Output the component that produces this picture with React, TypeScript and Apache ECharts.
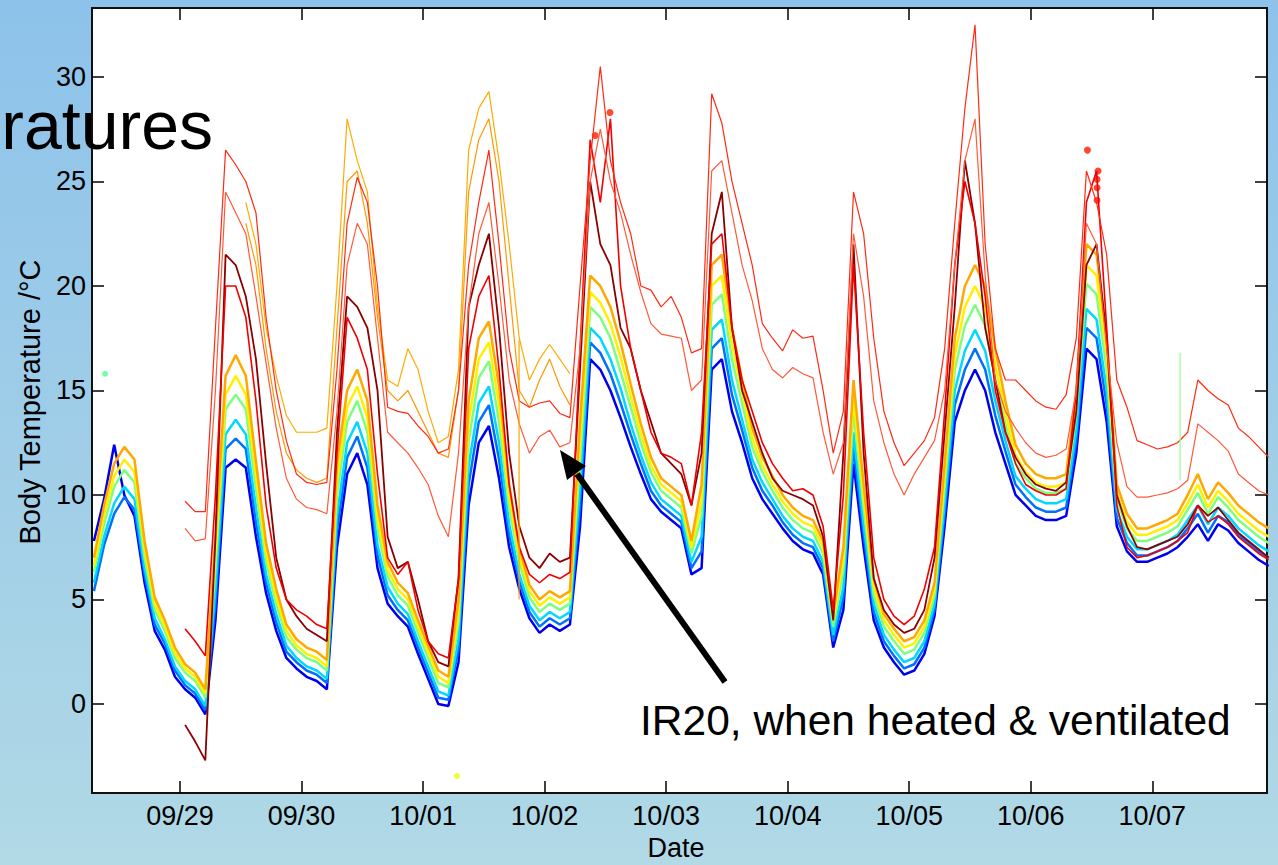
import React, { useEffect, useRef } from "react";
import * as echarts from "echarts";

// hours since 09/28 00:00 (2-hour sampling grid)
const HOURS = [7,9,11,13,15,17,19,21,23,25,27,29,31,33,35,37,39,41,43,45,47,49,51,53,55,57,59,61,63,65,67,69,71,73,75,77,79,81,83,85,87,89,91,93,95,97,99,101,103,105,107,109,111,113,115,117,119,121,123,125,127,129,131,133,135,137,139,141,143,145,147,149,151,153,155,157,159,161,163,165,167,169,171,173,175,177,179,181,183,185,187,189,191,193,195,197,199,201,203,205,207,209,211,213,215,217,219,221,223,225,227,229,231,233,235,237,239];

const DATE_TICKS = [24, 48, 72, 96, 120, 144, 168, 192, 216];
const DATE_LABELS = ["09/29", "09/30", "10/01", "10/02", "10/03", "10/04", "10/05", "10/06", "10/07"];
const TEMP_TICKS = [0, 5, 10, 15, 20, 25, 30];

// main cluster of sensors (jet colour order)
const S_BLUE = [7.8,9.8,12.4,10.0,9.0,5.8,3.5,2.6,1.3,0.7,
0.3,-0.5,4.0,11.3,11.7,11.3,8.0,5.3,3.5,2.2,
1.7,1.3,1.1,0.7,7.5,11.0,12.0,10.5,6.5,4.8,
4.2,3.7,2.4,1.2,0.0,-0.1,2.0,9.5,12.5,13.3,
10.8,7.5,5.5,4.1,3.4,3.8,3.5,3.8,8.5,16.5,
16.0,15.0,13.7,12.3,11.0,9.8,9.2,8.8,8.4,6.2,
6.5,16.0,16.5,14.0,12.5,10.8,9.8,9.1,8.4,7.8,
7.4,7.2,6.2,2.7,4.5,11.5,7.5,4.0,2.7,2.0,
1.4,1.6,2.4,4.2,8.5,13.5,15.0,16.0,15.0,13.0,
11.5,10.0,9.5,9.0,8.8,8.8,9.0,12.0,17.0,16.5,
13.5,8.5,7.3,6.8,6.8,7.0,7.2,7.5,8.0,8.6,
7.8,8.6,8.3,7.7,7.3,6.9,6.6];
const S_AZURE = [5.4,7.6,9.1,9.9,9.3,6.2,3.8,2.9,1.6,0.9,
0.5,-0.3,4.8,12.2,12.7,12.2,8.7,5.8,3.9,2.5,
2.0,1.6,1.4,1.0,8.3,11.8,12.8,11.3,7.1,5.2,
4.5,4.0,2.7,1.5,0.3,0.2,2.6,10.5,13.5,14.3,
11.7,8.1,5.9,4.4,3.7,4.1,3.8,4.1,9.5,17.3,
16.8,15.8,14.4,12.9,11.5,10.2,9.5,9.1,8.7,6.5,
7.3,17.0,17.5,14.8,13.1,11.3,10.2,9.5,8.7,8.1,
7.7,7.5,6.5,3.0,5.1,12.3,8.1,4.4,3.0,2.3,
1.7,1.9,2.7,4.5,9.1,14.3,16.0,17.0,16.0,13.8,
12.1,10.5,9.9,9.4,9.2,9.2,9.4,12.6,18.0,17.5,
14.3,8.9,7.7,7.1,7.1,7.3,7.5,7.8,8.4,9.1,
8.2,9.0,8.7,8.1,7.7,7.3,7.0];
const S_CYAN = [5.8,8.0,9.6,10.4,9.8,6.5,4.1,3.1,1.8,1.1,
0.7,-0.1,5.5,12.9,13.6,12.9,9.4,6.2,4.3,2.8,
2.2,1.8,1.6,1.2,9.0,12.5,13.5,12.0,7.6,5.6,
4.8,4.3,3.0,1.8,0.6,0.4,3.1,11.4,14.4,15.2,
12.5,8.6,6.2,4.7,4.0,4.4,4.1,4.4,10.4,18.0,
17.5,16.5,15.1,13.4,11.9,10.6,9.8,9.4,9.0,6.8,
8.0,17.9,18.4,15.5,13.6,11.7,10.6,9.8,9.0,8.4,
8.0,7.8,6.8,3.3,5.6,13.0,8.6,4.8,3.3,2.6,
2.0,2.2,3.0,4.8,9.6,15.0,16.9,17.9,16.9,14.5,
12.6,10.9,10.3,9.8,9.6,9.6,9.8,13.1,18.9,18.4,
15.0,9.3,8.0,7.4,7.4,7.6,7.8,8.1,8.8,9.5,
8.6,9.4,9.0,8.4,8.0,7.6,7.3];
const S_GREEN = [6.3,8.6,10.4,11.2,10.6,7.0,4.5,3.5,2.2,1.5,
1.1,0.3,6.5,14.1,14.8,14.1,10.3,6.8,4.8,3.2,
2.6,2.2,2.0,1.6,10.0,13.5,14.5,13.0,8.4,6.1,
5.2,4.7,3.4,2.2,1.0,0.8,3.9,12.6,15.6,16.4,
13.5,9.4,6.8,5.1,4.4,4.8,4.5,4.8,11.6,19.0,
18.5,17.5,15.9,14.2,12.5,11.1,10.2,9.8,9.4,7.2,
9.0,19.1,19.6,16.5,14.4,12.3,11.1,10.2,9.4,8.8,
8.4,8.2,7.2,3.7,6.4,14.0,9.4,5.2,3.7,3.0,
2.4,2.6,3.4,5.2,10.4,16.0,18.1,19.1,18.1,15.5,
13.4,11.5,10.8,10.3,10.1,10.1,10.3,13.9,20.1,19.6,
16.0,9.8,8.4,7.8,7.8,8.0,8.2,8.5,9.3,10.1,
9.1,9.9,9.4,8.8,8.4,8.0,7.7];
const S_YELLOW = [6.6,9.0,10.9,11.7,11.1,7.4,4.8,3.7,2.4,1.7,
1.3,0.5,7.2,14.8,15.7,14.8,10.9,7.2,5.1,3.5,
2.8,2.4,2.2,1.8,10.7,14.2,15.2,13.7,8.9,6.4,
5.5,5.0,3.7,2.5,1.3,1.0,4.4,13.5,16.5,17.3,
14.3,9.9,7.1,5.4,4.7,5.1,4.8,5.1,12.5,19.7,
19.2,18.2,16.6,14.7,12.9,11.4,10.5,10.1,9.7,7.5,
9.7,20.0,20.5,17.2,14.9,12.7,11.4,10.5,9.7,9.1,
8.7,8.5,7.5,4.0,6.9,14.7,9.9,5.6,4.0,3.3,
2.7,2.9,3.7,5.5,10.9,16.7,19.0,20.0,19.0,16.2,
13.9,11.9,11.1,10.6,10.4,10.4,10.6,14.4,21.0,20.5,
16.7,10.1,8.7,8.1,8.1,8.3,8.5,8.8,9.6,10.5,
9.4,10.2,9.7,9.1,8.7,8.3,8.0];
const S_ORANGE = [7.0,9.5,11.5,12.3,11.7,7.8,5.1,4.0,2.7,1.9,
1.5,0.7,8.0,15.7,16.7,15.7,11.6,7.7,5.5,3.8,
3.1,2.7,2.5,2.1,11.5,15.0,16.0,14.5,9.5,6.8,
5.8,5.3,4.0,2.8,1.6,1.3,5.0,14.5,17.5,18.3,
15.2,10.5,7.5,5.7,5.0,5.4,5.1,5.4,13.5,20.5,
20.0,19.0,17.3,15.3,13.4,11.8,10.8,10.4,10.0,7.8,
10.5,21.0,21.5,18.0,15.5,13.2,11.8,10.9,10.0,9.4,
9.0,8.8,7.8,4.3,7.5,15.5,10.5,6.0,4.3,3.6,
3.0,3.2,4.0,5.8,11.5,17.5,20.0,21.0,20.0,17.0,
14.5,12.4,11.5,11.0,10.8,10.8,11.0,15.0,22.0,21.5,
17.5,10.5,9.1,8.4,8.4,8.6,8.8,9.1,10.0,11.0,
9.8,10.6,10.1,9.5,9.1,8.7,8.4];

// sensors starting at 09/29 00:00 (grid index 9 onward)
const S_DARKRED = [-1.0,-1.8,-2.7,8.0,21.5,21.0,19.5,16.5,11.5,7.0,5.0,
4.2,3.6,3.3,3.0,13.0,19.5,19.0,18.0,15.0,8.0,
6.5,6.8,5.0,3.0,2.0,1.8,6.0,19.0,21.0,22.5,
18.0,12.0,8.5,7.0,6.5,7.2,6.8,7.0,16.0,25.0,
22.0,21.0,18.0,17.0,15.0,13.5,12.0,11.5,11.0,9.5,
12.0,22.5,24.5,18.0,15.0,13.5,12.0,10.8,10.2,10.0,
9.8,9.5,8.0,4.0,12.0,22.0,12.0,6.0,4.5,3.8,
3.4,3.6,4.5,7.0,13.0,19.0,26.0,23.0,18.0,15.5,
13.0,11.8,11.0,10.5,10.3,10.2,10.6,14.0,21.0,22.0,
17.5,10.0,8.5,7.5,7.4,7.6,7.8,8.0,8.6,9.5,
9.0,9.4,8.8,8.2,7.8,7.4,7.0];
const S_RED = [3.6,3.0,2.3,10.0,20.0,20.0,18.5,14.5,9.5,6.5,5.0,
4.5,4.2,3.8,3.6,12.0,18.5,17.5,16.0,11.0,7.0,
6.2,6.8,4.5,3.0,2.4,2.2,6.0,17.0,19.5,20.5,
16.0,10.5,7.5,6.2,5.8,6.2,6.0,6.3,17.0,27.0,
24.0,28.0,20.0,17.0,15.0,13.0,12.0,11.8,11.5,9.5,
13.0,22.0,22.5,18.0,15.5,14.0,12.5,11.5,10.8,10.2,
10.3,10.0,8.5,4.5,10.0,21.0,13.0,7.0,5.0,4.2,
3.8,4.2,5.5,7.5,14.0,21.0,25.0,23.0,19.5,15.0,
13.0,11.5,10.5,10.2,10.0,10.0,10.3,15.0,24.0,25.5,
18.0,9.5,7.5,7.0,7.1,7.3,7.5,7.8,8.2,9.5,
8.7,9.0,8.6,8.0,7.6,7.2,6.9];
// IR20 pair (heated & ventilated)
const IR20_A = [9.7,9.2,9.2,18.0,26.5,25.8,25.0,23.5,18.5,15.0,12.6,
11.0,10.6,10.5,10.6,16.0,23.0,25.2,24.0,20.0,14.2,
14.0,13.9,13.3,12.8,12.0,12.2,15.0,21.0,24.0,26.5,
22.0,17.0,14.5,14.2,14.4,14.5,13.9,13.7,20.0,26.0,
30.5,26.0,24.0,22.5,20.0,19.8,19.0,19.5,18.5,16.8,
17.0,29.2,27.8,25.0,23.0,21.0,18.2,17.5,16.9,17.9,
17.5,17.6,15.0,12.0,14.0,24.5,22.5,17.5,14.0,12.5,
11.4,12.0,12.6,13.7,17.0,23.0,28.5,32.5,22.0,17.0,
15.5,15.5,15.0,14.5,14.2,14.1,14.8,17.5,25.5,24.0,
21.5,15.5,14.2,12.6,12.4,12.2,12.3,12.5,13.0,15.5,
15.0,14.6,14.3,13.2,12.8,12.3,11.8];
const IR20_B = [8.4,7.8,7.9,15.0,24.5,23.5,22.5,19.5,16.3,13.2,10.8,
9.8,9.4,9.3,9.1,14.0,21.0,23.0,22.0,17.5,13.0,
12.5,12.0,11.3,10.5,9.0,8.0,12.0,19.0,22.5,24.0,
20.0,15.5,13.4,12.0,12.8,13.1,12.3,12.5,17.0,25.0,
27.5,25.0,23.5,21.5,19.7,18.2,17.7,17.6,17.5,15.0,
15.5,25.5,26.0,23.5,21.0,19.3,17.0,16.0,15.6,16.1,
15.8,15.6,13.0,11.0,12.5,22.5,19.5,14.5,12.5,11.0,
10.0,11.0,11.8,12.6,15.0,21.0,26.0,28.0,20.5,15.5,
14.0,13.2,12.5,12.0,11.8,11.9,12.2,15.0,23.0,22.0,
17.0,12.5,10.4,9.9,9.9,10.0,10.1,10.3,10.7,13.4,
13.0,12.6,12.1,11.0,10.6,10.2,10.0];
// two orange sensors, 09/29 noon to 10/02 (grid index 15..47)
const S_ORANGE_HI_1 = [24.0,22.0,18.0,15.7,13.8,13.0,13.0,13.0,13.2,20.0,28.0,26.0,24.5,19.0,15.5,15.2,17.0,16.0,14.0,12.5,12.8,16.0,26.5,28.5,29.3,26.0,22.0,17.5,15.5,16.5,17.2,16.5,15.8];
const S_ORANGE_HI_2 = [23.0,21.0,17.0,14.0,12.0,11.2,10.8,10.6,10.8,18.0,25.0,25.5,23.0,18.5,15.0,14.5,15.0,14.0,13.0,12.0,11.8,15.0,24.5,27.0,28.0,25.0,20.0,15.0,14.2,15.5,16.5,15.2,14.3];

// isolated readings [hour, °C]
const RED_MARKS = [[106.0, 27.2], [108.9, 28.3], [203.2, 26.5], [205.3, 25.5], [205.1, 25.1], [205.1, 24.7], [205.1, 24.1]];
const GREEN_MARKS = [[9.2, 15.8], [6.6, 2.7]];
const YELLOW_MARKS = [[78.7, -3.45]];
const GREEN_SPIKE = [[221.5, 10.7], [221.5, 16.8]];
const ORANGE_DROP = [[90.96, 17.4], [90.96, 5.0]];

const FONT = '"Liberation Sans", Arial, Helvetica, sans-serif';

function lineSeries(values: number[], start: number, color: string, width: number) {
  return {
    type: "line",
    data: values.map((v, i) => [HOURS[start + i], v]),
    showSymbol: false,
    symbol: "none",
    silent: true,
    lineStyle: { color, width },
    emphasis: { disabled: true },
  };
}

export default function App() {
  const ref = useRef<HTMLDivElement>(null);
  useEffect(() => {
    const chart = echarts.init(ref.current!, null, { renderer: "svg" });
    const xmin = 6.62, xmax = 238.66, ymin = -4.26, ymax = 33.3;
    const tickStyle = { color: "#000", width: 1.5 };
    const noLine = { show: false, onZero: false };
    const option: any = {
      animation: false,
      backgroundColor: {
        type: "linear", x: 0, y: 0, x2: 0, y2: 1,
        colorStops: [{ offset: 0, color: "#8DC2EA" }, { offset: 1, color: "#B1D9E6" }],
      },
      grid: { left: 92, top: 8, right: 11, bottom: 72, show: true, backgroundColor: "#FFFFFF", borderColor: "#111", borderWidth: 2 },
      xAxis: [
        {
          type: "value", min: xmin, max: xmax, position: "bottom",
          splitLine: { show: false }, axisLine: noLine,
          axisTick: { show: true, inside: true, length: 12, customValues: DATE_TICKS, lineStyle: tickStyle },
          axisLabel: {
            show: true, customValues: DATE_TICKS, margin: 9, color: "#000", fontSize: 27, fontFamily: FONT,
            formatter: (v: number) => DATE_LABELS[Math.round(v / 24) - 1] ?? "",
          },
        },
        {
          type: "value", min: xmin, max: xmax, position: "top",
          splitLine: { show: false }, axisLine: noLine, axisLabel: { show: false },
          axisTick: { show: true, inside: true, length: 12, customValues: DATE_TICKS, lineStyle: tickStyle },
        },
      ],
      yAxis: [
        {
          type: "value", min: ymin, max: ymax, position: "left",
          splitLine: { show: false }, axisLine: noLine,
          axisTick: { show: true, inside: true, length: 12, customValues: TEMP_TICKS, lineStyle: tickStyle },
          axisLabel: { show: true, customValues: TEMP_TICKS, margin: 6, color: "#000", fontSize: 27, lineHeight: 24, fontFamily: FONT },
        },
        {
          type: "value", min: ymin, max: ymax, position: "right",
          splitLine: { show: false }, axisLine: noLine, axisLabel: { show: false },
          axisTick: { show: true, inside: true, length: 12, customValues: TEMP_TICKS, lineStyle: tickStyle },
        },
      ],
      series: [
        lineSeries(S_BLUE, 0, "#0000F0", 2.5),
        lineSeries(S_AZURE, 0, "#0070FF", 2.5),
        lineSeries(S_CYAN, 0, "#00D8FF", 2.5),
        lineSeries(S_GREEN, 0, "#7CFF80", 2.5),
        lineSeries(S_YELLOW, 0, "#FFF000", 2.5),
        lineSeries(S_ORANGE, 0, "#FFA800", 2.5),
        lineSeries(S_DARKRED, 9, "#8B0000", 1.8),
        lineSeries(S_RED, 9, "#F00000", 1.6),
        lineSeries(S_ORANGE_HI_2, 15, "#FF9800", 1.2),
        lineSeries(S_ORANGE_HI_1, 15, "#FFAA00", 1.2),
        lineSeries(IR20_B, 9, "#FF5A3A", 1.2),
        lineSeries(IR20_A, 9, "#FF2A12", 1.2),
        { type: "line", data: GREEN_SPIKE, showSymbol: false, silent: true, lineStyle: { color: "#9CFF9C", width: 1.3 } },
        { type: "line", data: ORANGE_DROP, showSymbol: false, silent: true, lineStyle: { color: "#FFA500", width: 1.2 } },
        { type: "scatter", data: RED_MARKS, symbolSize: 7, silent: true, itemStyle: { color: "#FF1A00" } },
        { type: "scatter", data: GREEN_MARKS, symbolSize: 6, silent: true, itemStyle: { color: "#50FF90" } },
        { type: "scatter", data: YELLOW_MARKS, symbolSize: 6, silent: true, itemStyle: { color: "#E6FF00" } },
      ],
      graphic: [
        { type: "text", x: 213, y: 125, z: 100, style: { text: "ratures", fill: "#000", fontSize: 68, lineHeight: 50, fontFamily: FONT, textAlign: "right", textVerticalAlign: "middle" } },
        { type: "text", x: 30, y: 402, z: 100, rotation: Math.PI / 2, style: { text: "Body Temperature /°C", fill: "#000", fontSize: 29, fontFamily: FONT, textAlign: "center", textVerticalAlign: "middle" } },
        { type: "text", x: 676, y: 848, z: 100, style: { text: "Date", fill: "#000", fontSize: 27, fontFamily: FONT, textAlign: "center", textVerticalAlign: "middle" } },
        { type: "text", x: 640, y: 720, z: 100, style: { text: "IR20, when heated & ventilated", fill: "#000", fontSize: 42.5, fontFamily: FONT, textAlign: "left", textVerticalAlign: "middle" } },
        { type: "line", z: 100, shape: { x1: 725, y1: 682, x2: 577, y2: 474 }, style: { stroke: "#000", lineWidth: 6 } },
        { type: "polygon", z: 100, shape: { points: [[560, 450], [586, 466], [567, 480]] }, style: { fill: "#000" } },
      ],
    };
    chart.setOption(option);
    return () => chart.dispose();
  }, []);
  return <div ref={ref} style={{ position: "fixed", left: 0, top: 0, width: 1278, height: 865 }} />;
}
